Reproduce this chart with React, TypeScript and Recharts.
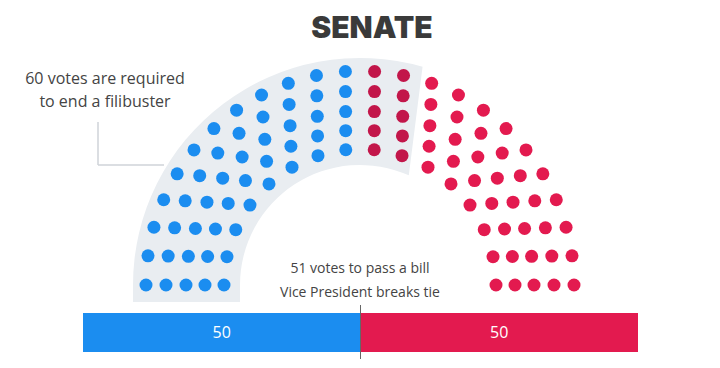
import { ScatterChart, Scatter, XAxis, YAxis, ReferenceLine, BarChart, Bar, LabelList } from 'recharts';

const TITLE = 'SENATE';
const PARTIES = ['Democrats', 'Republicans'];
const PARTY_SEATS = [50, 50];
const FILIBUSTER_VOTES = 60;
const ROW_SEATS = [16, 18, 20, 22, 24]; // inner -> outer row
const FILIBUSTER_NOTE = ['60 votes are required', 'to end a filibuster'];
const MAJORITY_NOTE = ['51 votes to pass a bill', 'Vice President breaks tie'];

const BLUE = '#1b8df0';
const RED = '#e31a4f';
const CRIMSON = '#c2164a';
const BAND = '#e9edf1';
const TEXT = '#444';
const FONT = '"Open Sans", "Noto Sans", sans-serif';

// layout: chart units are pixels, arc centre sits at (0, 0)
const ROW_RADII = [136, 155, 174, 194, 214];
const DOT_R = 6.5;

type Seat = { a: number; x: number; y: number };

function buildSeats(): Seat[] {
  const seats: Seat[] = [];
  ROW_SEATS.forEach((n, row) => {
    for (let i = 0; i < n; i++) {
      const a = Math.PI - (Math.PI * i) / (n - 1);
      seats.push({ a, x: ROW_RADII[row] * Math.cos(a), y: ROW_RADII[row] * Math.sin(a) });
    }
  });
  // fill seats left to right around the arc
  return seats.sort((p, q) => q.a - p.a);
}

const seats = buildSeats();
const demSeats = seats.slice(0, PARTY_SEATS[0]);
const repInside = seats.slice(PARTY_SEATS[0], FILIBUSTER_VOTES);
const repSeats = seats.slice(FILIBUSTER_VOTES);

const dot = (color: string) => (p: any) => <circle cx={p.cx} cy={p.cy} r={DOT_R} fill={color} />;

// grey band behind the first 60 seats
function FilibusterBand(props: any) {
  const { cx, cy } = props;
  const ro = 227, ri = 120, drop = 17;
  const a1 = (74 * Math.PI) / 180;
  const a2 = (66 * Math.PI) / 180;
  const d = `M ${cx - ro} ${cy + drop} L ${cx - ro} ${cy} A ${ro} ${ro} 0 0 1 ${cx + ro * Math.cos(a1)} ${cy - ro * Math.sin(a1)} L ${cx + ri * Math.cos(a2)} ${cy - ri * Math.sin(a2)} A ${ri} ${ri} 0 0 0 ${cx - ri} ${cy} L ${cx - ri} ${cy + drop} Z`;
  return <path d={d} fill={BAND} />;
}

const barRows = [{ name: 'Senate', [PARTIES[0]]: PARTY_SEATS[0], [PARTIES[1]]: PARTY_SEATS[1] }];
const total = PARTY_SEATS[0] + PARTY_SEATS[1];

export default function App() {
  return (
    <div style={{ position: 'absolute', left: 0, top: 0, width: 720, height: 368, background: '#fff', fontFamily: FONT }}>
      <ScatterChart width={720} height={368} margin={{ top: 0, right: 0, bottom: 0, left: 0 }}>
        <XAxis type="number" dataKey="x" domain={[-360, 360]} hide />
        <YAxis type="number" dataKey="y" domain={[-83, 285]} hide />
        <Scatter data={[{ x: 0, y: 0 }]} shape={FilibusterBand} isAnimationActive={false} />
        <ReferenceLine segment={[{ x: -262, y: 163 }, { x: -262, y: 120 }]} stroke="#cfd3d8" strokeWidth={1.5} />
        <ReferenceLine segment={[{ x: -262, y: 120 }, { x: -196, y: 120 }]} stroke="#cfd3d8" strokeWidth={1.5} />
        <Scatter data={demSeats} shape={dot(BLUE)} isAnimationActive={false} />
        <Scatter data={repInside} shape={dot(CRIMSON)} isAnimationActive={false} />
        <Scatter data={repSeats} shape={dot(RED)} isAnimationActive={false} />
      </ScatterChart>

      <div style={{ position: 'absolute', left: 0, top: 0, width: 720, height: 368, pointerEvents: 'none' }}>
        <div style={{ position: 'absolute', left: 272, width: 200, top: 8, textAlign: 'center', fontFamily: 'Inter, sans-serif', fontWeight: 900, fontSize: 30, lineHeight: '38px', color: '#3a3a3a' }}>
          {TITLE}
        </div>
        <div style={{ position: 'absolute', left: 5, width: 200, top: 67, textAlign: 'center', fontSize: 16, lineHeight: '23px', color: TEXT }}>
          {FILIBUSTER_NOTE.map((t) => <div key={t}>{t}</div>)}
        </div>
        <div style={{ position: 'absolute', left: 260, width: 200, top: 256, textAlign: 'center', fontSize: 14, lineHeight: '24px', color: TEXT }}>
          {MAJORITY_NOTE.map((t) => <div key={t}>{t}</div>)}
        </div>
      </div>

      <div style={{ position: 'absolute', left: 83, top: 305 }}>
        <BarChart width={555} height={54} data={barRows} layout="vertical" margin={{ top: 0, right: 0, bottom: 0, left: 0 }} barCategoryGap={0}>
          <XAxis type="number" domain={[0, total]} hide />
          <YAxis type="category" dataKey="name" hide />
          <Bar dataKey={PARTIES[0]} stackId="s" fill={BLUE} barSize={39} isAnimationActive={false}>
            <LabelList dataKey={PARTIES[0]} position="center" fill="#fff" fontSize={16} fontFamily={FONT} />
          </Bar>
          <Bar dataKey={PARTIES[1]} stackId="s" fill={RED} barSize={39} isAnimationActive={false}>
            <LabelList dataKey={PARTIES[1]} position="center" fill="#fff" fontSize={16} fontFamily={FONT} />
          </Bar>
          <ReferenceLine x={total / 2} stroke="#666" strokeWidth={1} />
        </BarChart>
      </div>
    </div>
  );
}
